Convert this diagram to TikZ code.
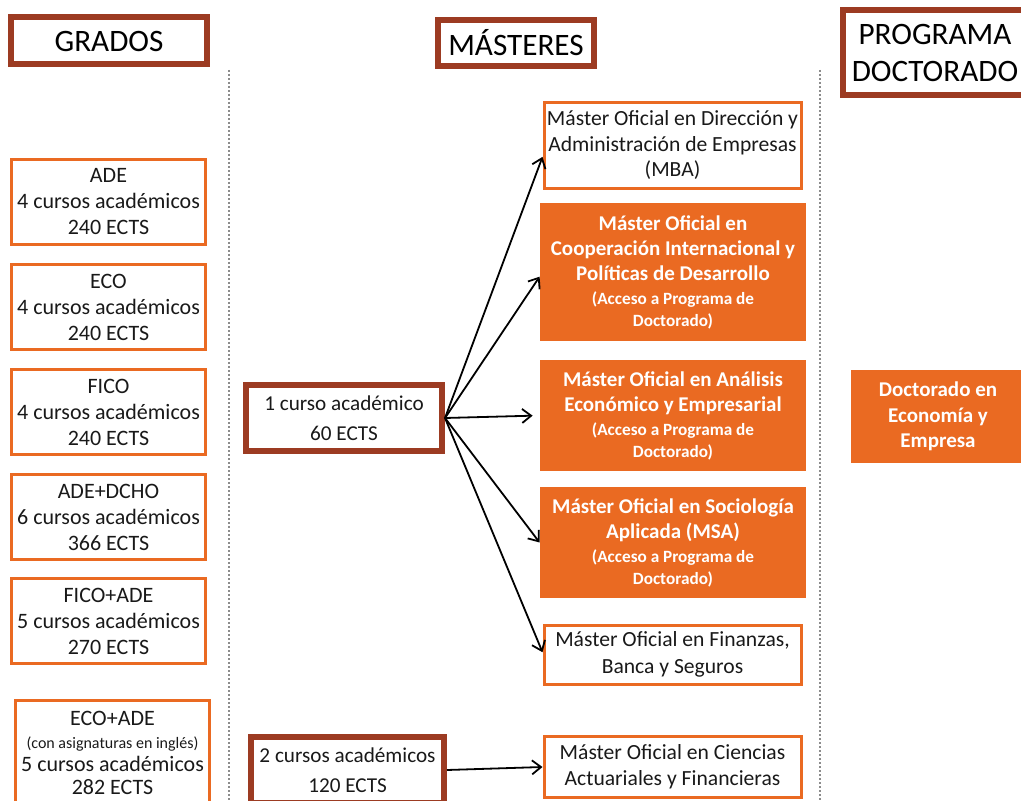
\documentclass[tikz,border=0pt]{standalone}
\usepackage{fontspec}
\setmainfont{Carlito}
\usetikzlibrary{positioning, arrows.meta}
\definecolor{granate}{RGB}{156,59,34}
\definecolor{naranja}{RGB}{234,106,34}
\definecolor{tinta}{RGB}{25,25,25}
\newcommand{\notaacceso}{\bfseries\fontsize{8.6}{12.5}\selectfont}

\begin{document}
\begin{tikzpicture}[x=0.5pt, y=-0.5pt, node distance = 52.5pt, on grid,
    >={Straight Barb[length=4.5pt, width=7pt]},
    cabecera/.style = {draw=granate, line width=3pt, fill=white, align=center,
      inner sep=0pt, text=black, font=\fontsize{15.6}{18.5}\selectfont},
    grado/.style = {draw=naranja, line width=1.5pt, align=center, inner sep=0pt,
      minimum width=97pt, minimum height=42.5pt, text=tinta,
      font=\fontsize{11}{13}\selectfont},
    curso/.style = {draw=granate, line width=3pt, align=center, inner sep=0pt,
      text=tinta, font=\fontsize{10.6}{15}\selectfont},
    master/.style = {draw=naranja, line width=1.5pt, align=center, inner sep=0pt,
      minimum width=128.5pt, text=tinta, font=\fontsize{10.8}{12.75}\selectfont},
    acceso/.style = {fill=naranja, align=center, inner sep=0pt, text=white,
      minimum width=133pt, font=\bfseries\fontsize{10.5}{12.5}\selectfont},
    separa/.style = {draw=black!45, densely dotted, line width=1pt}]
  \useasboundingbox (0,0) rectangle (1021,801);

  % columnas
  \draw[separa] (229,70) -- (229,801);
  \draw[separa] (820,70) -- (820,801);

  % cabeceras
  \node[cabecera, minimum width=98pt, minimum height=23.5pt] (grados) at (109,41) {GRADOS};
  \node[cabecera, minimum width=78pt, minimum height=23pt] (masteres) at (516,43) {MÁSTERES};
  \node[cabecera, minimum width=92pt, minimum height=42.5pt] (programa) at (935,52.5)
    {PROGRAMA\\DOCTORADO};

  % grados
  \node[grado] (ade) at (108.5,202) {ADE\\4 cursos académicos\\240 ECTS};
  \node[grado] (eco) [below =of ade] {ECO\\4 cursos académicos\\240 ECTS};
  \node[grado] (fico) [below =of eco] {FICO\\4 cursos académicos\\240 ECTS};
  \node[grado] (adedcho) [below =of fico] {ADE+DCHO\\6 cursos académicos\\366 ECTS};
  \node[grado] (ficoade) [below =52pt of adedcho] {FICO+ADE\\5 cursos académicos\\270 ECTS};
  \node[grado, minimum height=52.5pt, font=\fontsize{11}{11.5}\selectfont] (ecoade) at (112.5,753)
    {ECO+ADE\\{\fontsize{8}{11.5}\selectfont (con asignaturas en inglés)}\\5 cursos académicos\\282 ECTS};

  % cursos
  \node[curso, minimum width=98pt, minimum height=33pt] (uno) at (344,418)
    {1 curso académico\\60 ECTS};
  \node[curso, minimum width=96.5pt, minimum height=33pt] (dos) at (347.5,770)
    {2 cursos académicos\\120 ECTS};

  % masteres
  \node[master, minimum height=43pt] (mba) at (672.5,145.5)
    {Máster Oficial en Dirección y\\Administración de Empresas\\(MBA)};
  \node[acceso, minimum height=69pt] (coop) at (673,272)
    {Máster Oficial en\\Cooperación Internacional y\\Políticas de Desarrollo\\[-0.5pt]
     {\notaacceso (Acceso a Programa de}\\[-1.5pt]{\notaacceso Doctorado)}};
  \node[acceso, minimum height=55.5pt] (analisis) at (673,415.5)
    {Máster Oficial en Análisis\\Económico y Empresarial\\[-0.5pt]
     {\notaacceso (Acceso a Programa de}\\[-1.5pt]{\notaacceso Doctorado)}};
  \node[acceso, minimum height=55.5pt] (socio) at (673,542.5)
    {Máster Oficial en Sociología\\Aplicada (MSA)\\[-0.5pt]
     {\notaacceso (Acceso a Programa de}\\[-1.5pt]{\notaacceso Doctorado)}};
  \node[master, minimum height=29.5pt, font=\fontsize{10.8}{13.5}\selectfont] (finanzas) at (672.5,654.5)
    {Máster Oficial en Finanzas,\\Banca y Seguros};
  \node[master, minimum height=30.5pt, font=\fontsize{10.8}{13}\selectfont] (actuarial) at (672.5,767)
    {Máster Oficial en Ciencias\\Actuariales y Financieras};

  % doctorado
  \node[acceso, minimum width=87pt, minimum height=46.5pt, font=\bfseries\fontsize{10.5}{12.75}\selectfont]
    (doctorado) at (938,416.5) {Doctorado en\\Economía y\\Empresa};

  \path[->, line width=0.9pt]
    (uno.east) edge (mba.185)
               edge (coop.182)
               edge [shorten >=3.5pt] (analisis.west)
               edge (socio.west)
               edge (finanzas.179)
    (dos.east) edge (actuarial.west);
\end{tikzpicture}
\end{document}
